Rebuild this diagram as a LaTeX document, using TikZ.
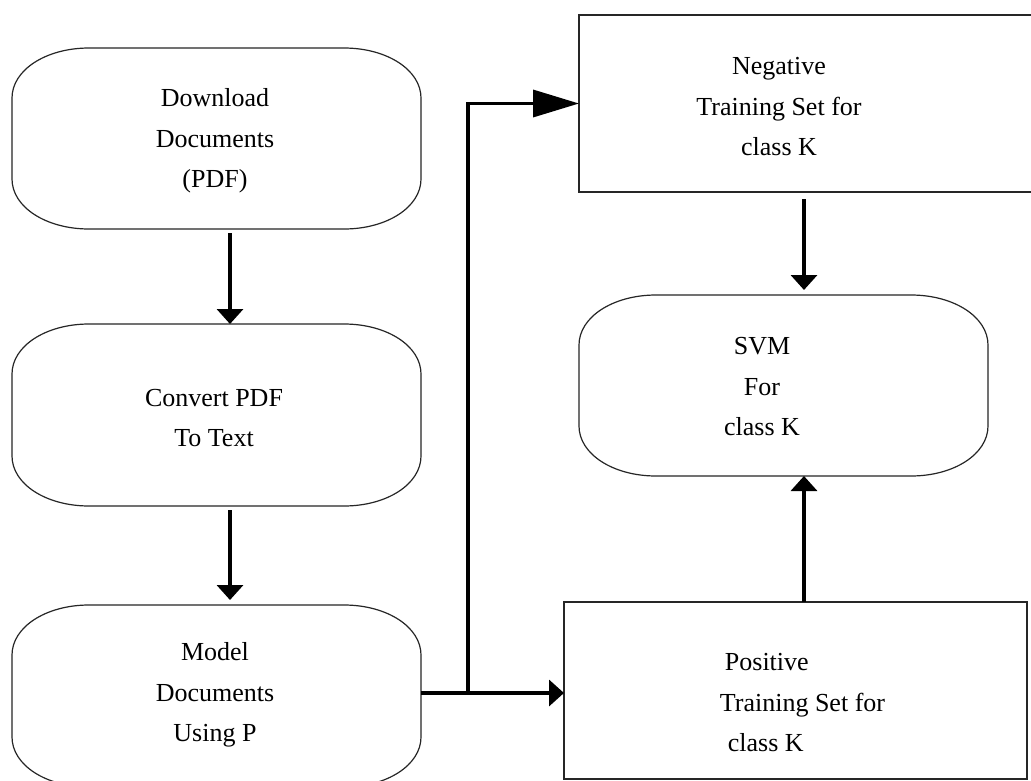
\documentclass[tikz,border=0pt]{standalone}
\usepackage{fontspec}
\setmainfont{Liberation Serif}
\usetikzlibrary{arrows.meta,calc}
\newcommand{\ovaloutline}[1]{%
  \draw[boxline] ($(#1.north west)+(0,50)$) .. controls ($(#1.north west)+(0,22)$) and ($(#1.north west)+(34,0)$) .. ($(#1.north west)+(77,0)$)
    -- ($(#1.north east)+(-77,0)$) .. controls ($(#1.north east)+(-34,0)$) and ($(#1.north east)+(0,22)$) .. ($(#1.north east)+(0,50)$)
    -- ($(#1.south east)+(0,-50)$) .. controls ($(#1.south east)+(0,-22)$) and ($(#1.south east)+(-34,0)$) .. ($(#1.south east)+(-77,0)$)
    -- ($(#1.south west)+(77,0)$) .. controls ($(#1.south west)+(34,0)$) and ($(#1.south west)+(0,-22)$) .. ($(#1.south west)+(0,-50)$) -- cycle;}
\begin{document}
\begin{tikzpicture}[x=1pt,y=-1pt,
  boxline/.style={line width=1.2pt, draw=black!85},
  shapebox/.style={inner sep=0pt, outer sep=0pt},
  rectbox/.style={shapebox, draw=black!85, line width=1.2pt},
  arr/.style={line width=3.5pt, -{Triangle[length=15pt,width=26pt]}},
  arrlong/.style={line width=3.5pt, -{Triangle[length=46pt,width=27pt]}},
  txt/.style={font=\fontsize{26}{40.5}\selectfont, align=center, inner sep=0pt}]
\clip (0,0) rectangle (1031,780);
\fill[white] (0,0) rectangle (1031,780);
% left column
\node[shapebox, minimum width=409pt, minimum height=181pt] (b1) at (216.5,138.5) {};
\node[shapebox, minimum width=409pt, minimum height=182pt] (b2) at (216.5,415) {};
\node[shapebox, minimum width=409pt, minimum height=182pt] (b3) at (216.5,696) {};
\ovaloutline{b1}
\ovaloutline{b2}
\ovaloutline{b3}
\node[txt] (t1) at (215,141) {Download\\Documents\\(PDF)};
\node[txt] (t2) at (214,418) {Convert PDF\\To Text};
\node[txt] (t3) at (215,695) {Model\\Documents\\Using P};
% right column
\node[rectbox, minimum width=466pt, minimum height=177pt] (neg) at (812,103.5) {};
\node[shapebox, minimum width=409pt, minimum height=181pt] (svm) at (783.5,385.5) {};
\ovaloutline{svm}
\node[rectbox, minimum width=463pt, minimum height=177pt] (pos) at (795.5,690.5) {};
\node[txt] (tneg) at (779,107) {Negative\\Training Set for\\class K};
\node[txt] (tsvm) at (762,387) {SVM\\For\\class K};
\node[txt, align=left] (tpos) at (802.5,703) {\hspace*{5pt}Positive\\Training Set for\\\hspace*{8pt}class K};
% connectors
\draw[arr, shorten <=4pt] ([xshift=13.5pt]b1.south) -- ([xshift=13.5pt]b2.north);
\draw[arr, shorten <=4pt, shorten >=5pt] ([xshift=13.5pt]b2.south) -- ([xshift=13.5pt]b3.north);
\coordinate (j) at (468,693);
\draw[arr] (b3.east |- j) -- (j -| pos.west);
\draw[arrlong] (j) |- (neg.west);
\coordinate (c) at (804,0);
\draw[arr, shorten <=7pt, shorten >=5pt] (neg.south -| c) -- (svm.north -| c);
\draw[arr] (pos.north -| c) -- (svm.south -| c);
\end{tikzpicture}
\end{document}
